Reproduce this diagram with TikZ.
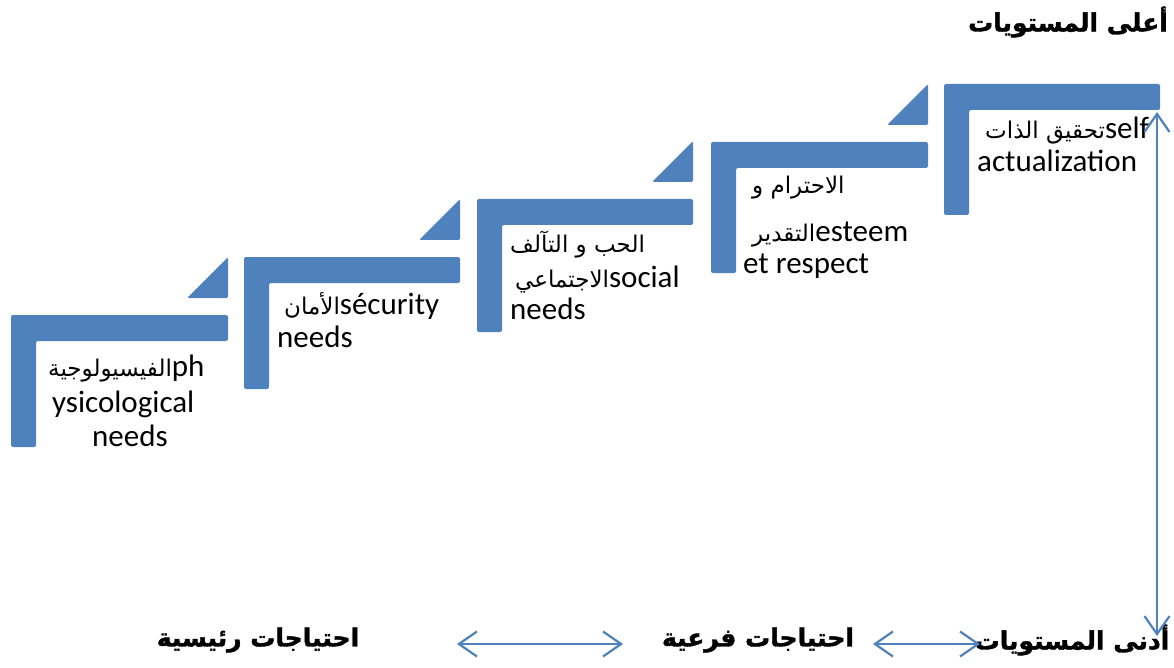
\documentclass[tikz,border=0pt]{standalone}
\usepackage{fontspec}
\setmainfont{Carlito}
\newfontfamily\arabicfont[Script=Arabic]{DejaVu Sans}
\newfontfamily\arabicheavy[Script=Arabic,FakeBold=1.5]{DejaVu Sans Bold}
\TeXXeTstate=1
\usetikzlibrary{arrows.meta}
\definecolor{stepblue}{HTML}{4F81BD}
\newcommand{\ar}[1]{{\arabicfont\fontsize{23}{28}\selectfont\beginR #1\endR}}
\tikzset{
  stepbar/.style={fill=stepblue, draw=none, rounded corners=2pt},
  steptri/.style={fill=stepblue, draw=none, rounded corners=1.5pt},
  steptext/.style={anchor=base west, inner sep=0pt, font=\fontsize{31}{37}\selectfont},
  levellabel/.style={inner sep=0pt, font=\arabicheavy\fontsize{25}{30}\selectfont},
  levelarrow/.style={draw=stepblue, line width=2.2pt,
    {Straight Barb[length=18pt,width=25pt,line width=2.2pt]}-{Straight Barb[length=18pt,width=25pt,line width=2.2pt]}}
}
% one stair step: left, top, right, bottom
\newcommand{\stairstep}[4]{%
  \fill[stepbar] (#1,#2) -- (#3,#2) -- (#3,#2+26) -- (#1+25,#2+26) -- (#1+25,#4) -- (#1,#4) -- cycle;}
\newcommand{\stairtri}[2]{%
  \fill[steptri] (#1,#2-58) -- (#1,#2-17) -- (#1-41,#2-17) -- cycle;}
\begin{document}
\begin{tikzpicture}[x=1pt,y=-1pt]
\useasboundingbox (0,0) rectangle (1174,668);

% stairs
\stairstep{11}{315}{228}{447}
\stairstep{244}{257}{460}{389}
\stairstep{477}{199}{693}{332}
\stairstep{711}{142}{928}{273}
\stairstep{944}{84}{1160}{215}
\stairtri{228}{315}
\stairtri{460}{257}
\stairtri{693}{199}
\stairtri{928}{142}

% step captions
\node[steptext] (p1) at (48,376) {\ar{الفيسيولوجية}ph};
\node[steptext] (p2) at (52,412) {ysicological};
\node[steptext] (p3) at (92,446) {needs};

\node[steptext] (s1) at (284,314) {\ar{الأمان}sécurity};
\node[steptext] (s2) at (277,347) {needs};

\node[steptext] (c1) at (510,252) {\ar{الحب و التآلف}};
\node[steptext] (c2) at (515,287) {\ar{الاجتماعي}social};
\node[steptext] (c3) at (510,319) {needs};

\node[steptext] (e1) at (752,194) {\ar{الاحترام و}};
\node[steptext] (e2) at (752,242) {\ar{التقدير}esteem};
\node[steptext] (e3) at (743,273) {et respect};

\node[steptext] (a1) at (985,139) {\ar{تحقيق الذات}self};
\node[steptext] (a2) at (977,172) {actualization};

% level labels
\node[levellabel] (top) at (1068,22) {\beginR أعلى المستويات\endR};
\node[levellabel] (main) at (258,640) {\beginR احتياجات رئيسية\endR};
\node[levellabel] (sub) at (758,640) {\beginR احتياجات فرعية\endR};
\node[levellabel] (low) at (1072,640) {\beginR أدنى المستويات\endR};

% arrows
\coordinate (vtop) at (1157,112);
\coordinate (vbot) at (1157,636);
\coordinate (h1a) at (457,644);
\coordinate (h1b) at (623,644);
\coordinate (h2a) at (873,644);
\coordinate (h2b) at (980,644);
\draw[levelarrow] (vtop) -- (vbot);
\draw[levelarrow] (h1a) -- (h1b);
\draw[levelarrow] (h2a) -- (h2b);
\end{tikzpicture}
\end{document}
